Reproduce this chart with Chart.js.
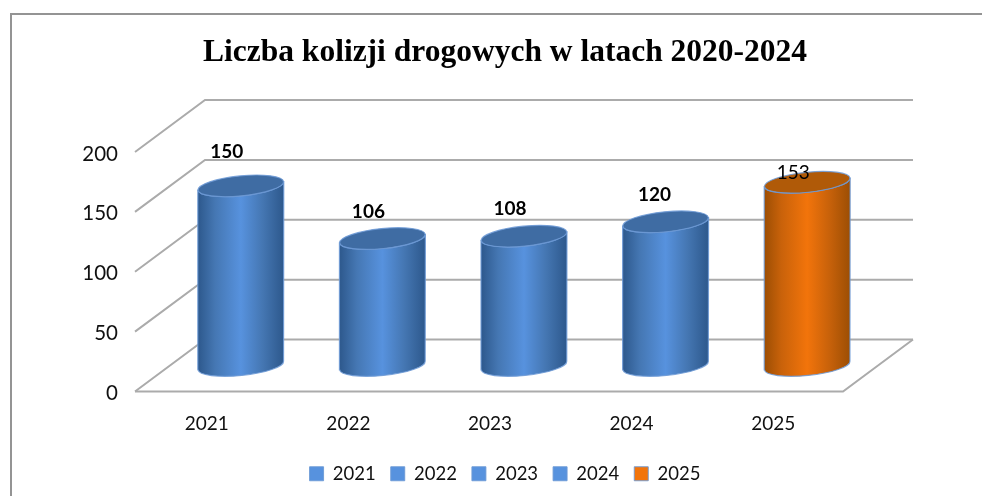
<!DOCTYPE html>
<html>
<head>
<meta charset="utf-8">
<title>Liczba kolizji drogowych</title>
<script src="https://cdn.jsdelivr.net/npm/chart.js@4"></script>
<style>
  html, body { margin: 0; padding: 0; background: #fff; overflow: hidden; }
  #wrap { position: relative; width: 982px; height: 496px; overflow: hidden; }
  #frame { position: absolute; left: 10px; top: 13px; width: 990px; height: 500px; border: 2px solid #949494; }
  canvas { position: absolute; left: 0; top: 0; }
</style>
</head>
<body>
<div id="wrap">
  <div id="frame"></div>
  <canvas id="kolizje" width="982" height="496"></canvas>
</div>
<script>
const categories = ['2021', '2022', '2023', '2024', '2025'];
const values = [150, 106, 108, 120, 153];
const yTicks = [0, 50, 100, 150, 200];
const chartTitle = 'Liczba kolizji drogowych w latach 2020-2024';

// how far each value label sits above the top of its cylinder
const labelLift = [34, 27, 27, 27, 9];
const labelShift = [-14, -14, -14, -11, -14];
const labelBold = [true, true, true, true, false];

const BLUE = { dark: '#2d588c', mid: '#4577b3', light: '#5792de', top: '#3f6ca3' };
const ORANGE = { dark: '#9c4e04', mid: '#c9620a', light: '#f2740b', top: '#b05a08' };
const palette = [BLUE, BLUE, BLUE, BLUE, ORANGE];
const DEPTH_X = 70;
const DEPTH_Y = 52;

function cylinder(ctx, cx, top, bottom, halfW, colors) {
  const ry = 10, tilt = -0.1;
  const dy = Math.sin(tilt) * halfW;

  const grad = ctx.createLinearGradient(cx - halfW, 0, cx + halfW, 0);
  grad.addColorStop(0, colors.dark);
  grad.addColorStop(0.2, colors.mid);
  grad.addColorStop(0.5, colors.light);
  grad.addColorStop(0.75, colors.mid);
  grad.addColorStop(1, colors.dark);

  ctx.beginPath();
  ctx.moveTo(cx - halfW, top - dy);
  ctx.lineTo(cx - halfW, bottom - dy);
  ctx.ellipse(cx, bottom, halfW, ry, tilt, Math.PI, 0, true);
  ctx.lineTo(cx + halfW, top + dy);
  ctx.ellipse(cx, top, halfW, ry, tilt, 0, Math.PI, false);
  ctx.closePath();
  ctx.fillStyle = grad;
  ctx.fill();
  ctx.lineWidth = 1.2;
  ctx.strokeStyle = 'rgba(109,154,214,0.85)';
  ctx.stroke();

  ctx.beginPath();
  ctx.ellipse(cx, top, halfW, ry, tilt, 0, Math.PI * 2);
  ctx.fillStyle = colors.top;
  ctx.fill();
  ctx.stroke();
}

const wallsPlugin = {
  id: 'walls',
  beforeDatasetsDraw(chart) {
    const { ctx, chartArea } = chart;
    const y = chart.scales.y;
    ctx.save();
    ctx.strokeStyle = '#ababab';
    ctx.lineWidth = 2;
    yTicks.forEach(function (t) {
      const py = y.getPixelForValue(t);
      ctx.beginPath();
      ctx.moveTo(chartArea.left, py);
      ctx.lineTo(chartArea.left + DEPTH_X, py - DEPTH_Y);
      ctx.lineTo(chartArea.right + DEPTH_X, py - DEPTH_Y);
      ctx.stroke();
    });
    // front and right edge of the floor
    const base = y.getPixelForValue(0);
    ctx.beginPath();
    ctx.moveTo(chartArea.left, base);
    ctx.lineTo(chartArea.right, base);
    ctx.lineTo(chartArea.right + DEPTH_X, base - DEPTH_Y);
    ctx.stroke();
    ctx.restore();
  }
};

const cylindersPlugin = {
  id: 'cylinders',
  afterDatasetsDraw(chart) {
    const { ctx } = chart;
    const bars = chart.getDatasetMeta(0).data;
    ctx.save();
    bars.forEach(function (bar, i) {
      cylinder(ctx, bar.x + DEPTH_X / 2, bar.y - DEPTH_Y / 2, bar.base - DEPTH_Y / 2, bar.width / 2, palette[i]);
    });
    ctx.textAlign = 'center';
    ctx.textBaseline = 'middle';
    ctx.fillStyle = '#000';
    bars.forEach(function (bar, i) {
      ctx.font = (labelBold[i] ? 'bold ' : '') + '19px Lato';
      ctx.fillText(values[i], bar.x + DEPTH_X / 2 + labelShift[i], bar.y - DEPTH_Y / 2 - labelLift[i]);
    });
    ctx.restore();
  }
};

new Chart(document.getElementById('kolizje'), {
  type: 'bar',
  data: {
    labels: categories,
    datasets: [{
      data: values,
      backgroundColor: 'rgba(0,0,0,0)',
      categoryPercentage: 1,
      barPercentage: 0.607
    }]
  },
  plugins: [wallsPlugin, cylindersPlugin],
  options: {
    responsive: false,
    animation: false,
    layout: { padding: { left: 28, right: 0, top: 0, bottom: 3 } },
    scales: {
      x: {
        grid: { display: false },
        border: { display: false },
        ticks: { color: '#111', padding: 13, labelOffset: 1, font: { family: 'Lato', size: 19 } },
        afterFit(scale) { scale.height = 58; }
      },
      y: {
        min: 0,
        max: 200,
        grid: { display: false },
        border: { display: false },
        ticks: { color: '#111', padding: 9, labelOffset: 2, stepSize: 50, font: { family: 'Lato', size: 20.5 } },
        afterFit(scale) { scale.width = 107; }
      },
      // empty axis, keeps the floor short of the right edge
      spacer: {
        position: 'right',
        grid: { display: false },
        border: { display: false },
        ticks: { display: false },
        afterFit(scale) { scale.width = 139; }
      }
    },
    plugins: {
      title: {
        display: true,
        text: chartTitle,
        color: '#000',
        padding: { top: 34, bottom: 80.2 },
        font: { family: 'Liberation Serif', size: 31.5, weight: 'bold' }
      },
      legend: {
        position: 'bottom',
        labels: {
          color: '#111',
          boxWidth: 14,
          boxHeight: 14,
          padding: 15,
          font: { family: 'Lato', size: 18.5 },
          generateLabels() {
            return categories.map(function (c, i) {
              return {
                text: c,
                fillStyle: palette[i].light,
                strokeStyle: 'rgba(109,154,214,0.9)',
                lineWidth: 1,
                fontColor: '#111',
                datasetIndex: 0,
                index: i
              };
            });
          }
        }
      },
      tooltip: { enabled: false }
    }
  }
});
</script>
</body>
</html>
